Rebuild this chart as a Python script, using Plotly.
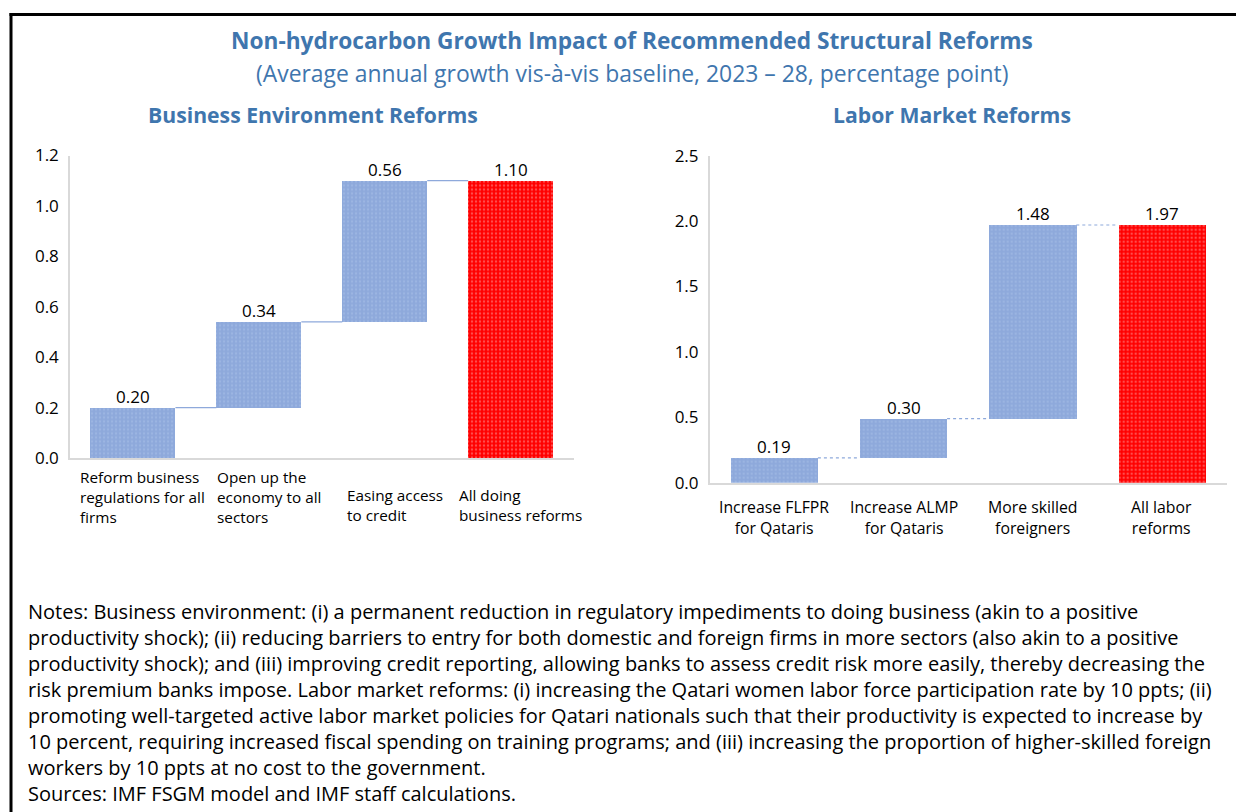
import plotly.graph_objects as go

# ---------------- data ----------------
be_categories = ["Reform business<br>regulations for all<br>firms",
                 "Open up the<br>economy to all<br>sectors",
                 "Easing access<br>to credit",
                 "All doing<br>business reforms"]
be_values = [0.20, 0.34, 0.56, 1.10]
be_measure = ["relative", "relative", "relative", "total"]
be_ticks = [0.0, 0.2, 0.4, 0.6, 0.8, 1.0, 1.2]

lm_categories = ["Increase FLFPR<br>for Qataris",
                 "Increase ALMP<br>for Qataris",
                 "More skilled<br>foreigners",
                 "All labor<br>reforms"]
lm_values = [0.19, 0.30, 1.48, 1.97]
lm_measure = ["relative", "relative", "relative", "total"]
lm_ticks = [0.0, 0.5, 1.0, 1.5, 2.0, 2.5]

title_text = "<b>Non-hydrocarbon Growth Impact of Recommended Structural Reforms</b>"
subtitle_text = "(Average annual growth vis-à-vis baseline, 2023 – 28, percentage point)"
left_title = "<b>Business Environment Reforms</b>"
right_title = "<b>Labor Market Reforms</b>"
notes_lines = [
    "Notes: Business environment: (i) a permanent reduction in regulatory impediments to doing business (akin to a positive",
    "productivity shock); (ii) reducing barriers to entry for both domestic and foreign firms in more sectors (also akin to a positive",
    "productivity shock); and (iii) improving credit reporting, allowing banks to assess credit risk more easily, thereby decreasing the",
    "risk premium banks impose. Labor market reforms: (i) increasing the Qatari women labor force participation rate by 10 ppts; (ii)",
    "promoting well-targeted active labor market policies for Qatari nationals such that their productivity is expected to increase by",
    "10 percent, requiring increased fiscal spending on training programs; and (iii) increasing the proportion of higher-skilled foreign",
    "workers by 10 ppts at no cost to the government.",
    "Sources: IMF FSGM model and IMF staff calculations.",
]

# ---------------- style ----------------
FONT = "Open Sans"
TITLE_BLUE = "#3F76AE"
BAR_BLUE = "#8EA9DB"
DOT_BLUE = "#A9C1E8"
BAR_RED = "#FF0000"
DOT_RED = "#FF9A9A"
AXIS_GRAY = "#D9D9D9"
BAR_W = 0.675
OX, OY = 8, 8  # page body margin in the browser
W, H = 1244 - OX, 812 - OY  # figure reaches the window's right and bottom edges


def px(x):
    return (x - OX) / W


def py(y):
    return 1 - (y - OY) / H


fig = go.Figure()


def waterfall(values, measures):
    bases, tops, run = [], [], 0.0
    for v, m in zip(values, measures):
        if m == "total":
            bases.append(0.0)
            tops.append(v)
            run = v
        else:
            bases.append(run)
            run += v
            tops.append(run)
    return bases, tops


def add_panel(values, measures, xa, ya, dash):
    bases, tops = waterfall(values, measures)
    n = len(values)
    inc_x = [i for i in range(n) if measures[i] != "total"]
    tot_x = [i for i in range(n) if measures[i] == "total"]
    fig.add_trace(go.Bar(
        x=inc_x, y=[values[i] for i in inc_x], base=[bases[i] for i in inc_x],
        width=BAR_W, xaxis=xa, yaxis=ya, hoverinfo="skip", showlegend=False,
        marker=dict(color=BAR_BLUE, line=dict(width=0),
                    pattern=dict(shape=".", bgcolor=BAR_BLUE, fgcolor=DOT_BLUE,
                                 size=4, solidity=0.25)),
    ))
    fig.add_trace(go.Bar(
        x=tot_x, y=[values[i] for i in tot_x], base=[bases[i] for i in tot_x],
        width=BAR_W, xaxis=xa, yaxis=ya, hoverinfo="skip", showlegend=False,
        marker=dict(color=BAR_RED, line=dict(width=0),
                    pattern=dict(shape=".", bgcolor=BAR_RED, fgcolor=DOT_RED,
                                 size=4, solidity=0.3)),
    ))
    for i in range(n - 1):
        level = tops[i]
        fig.add_trace(go.Scatter(
            x=[i + BAR_W / 2, i + 1 - BAR_W / 2], y=[level, level],
            mode="lines", xaxis=xa, yaxis=ya, hoverinfo="skip", showlegend=False,
            line=dict(color=BAR_BLUE, width=1.2, dash=dash),
        ))
    for i in range(n):
        fig.add_annotation(
            x=i, y=tops[i], xref=xa, yref=ya.replace("axis", ""),
            text=f"{values[i]:.2f}", showarrow=False, xanchor="center",
            yanchor="bottom", yshift=-2,
            font=dict(family=FONT, size=17, color="#000000"),
        )


add_panel(be_values, be_measure, "x", "y", "solid")
add_panel(lm_values, lm_measure, "x2", "y2", "dot")

axis_common = dict(showgrid=False, zeroline=False, showline=True,
                   linecolor=AXIS_GRAY, linewidth=1.5, fixedrange=True,
                   automargin=False)

fig.update_layout(
    width=W, height=H,
    margin=dict(l=0, r=0, t=0, b=0, pad=0, autoexpand=False),
    paper_bgcolor="white", plot_bgcolor="white",
    bargap=0, showlegend=False,
    font=dict(family=FONT, size=17, color="#000000"),
    xaxis=dict(domain=[px(70), px(573.6)], range=[-0.5, 3.5],
               showticklabels=False, ticks="", anchor="y", **axis_common),
    yaxis=dict(domain=[py(458), py(155.5)], range=[0, 1.2],
               tickvals=be_ticks, tickformat=".1f", ticks="",
               ticklabelstandoff=6, anchor="x",
               tickfont=dict(family=FONT, size=17, color="#000000"), **axis_common),
    xaxis2=dict(domain=[px(709.7), px(1226.5)], range=[-0.5, 3.5],
                showticklabels=False, ticks="", anchor="y2", **axis_common),
    yaxis2=dict(domain=[py(482.7), py(155.7)], range=[0, 2.5],
                tickvals=lm_ticks, tickformat=".1f", ticks="",
                ticklabelstandoff=6, anchor="x2",
                tickfont=dict(family=FONT, size=17, color="#000000"), **axis_common),
)

for i, lab in enumerate(be_categories):
    nlines = lab.count("<br>") + 1
    fig.add_annotation(
        x=i, xref="x", y=py(465 + (3 - nlines) * 18), yref="paper",
        text=lab, showarrow=False, xanchor="center", yanchor="top",
        align="left", xshift=10,
        font=dict(family=FONT, size=15.3, color="#000000"),
    )
for i, lab in enumerate(lm_categories):
    fig.add_annotation(
        x=i, xref="x2", y=py(494), yref="paper",
        text=lab, showarrow=False, xanchor="center", yanchor="top",
        align="center",
        font=dict(family=FONT, size=15.8, color="#000000"),
    )

fig.add_annotation(x=px(632), y=py(40), xref="paper", yref="paper",
                   text=title_text, showarrow=False, xanchor="center", yanchor="middle",
                   font=dict(family=FONT, size=22.7, color=TITLE_BLUE))
fig.add_annotation(x=px(632), y=py(73), xref="paper", yref="paper",
                   text=subtitle_text, showarrow=False, xanchor="center", yanchor="middle",
                   font=dict(family=FONT, size=22.9, color=TITLE_BLUE))
fig.add_annotation(x=px(312.5), y=py(114), xref="paper", yref="paper",
                   text=left_title, showarrow=False, xanchor="center", yanchor="middle",
                   font=dict(family=FONT, size=21.2, color=TITLE_BLUE))
fig.add_annotation(x=px(951.5), y=py(114), xref="paper", yref="paper",
                   text=right_title, showarrow=False, xanchor="center", yanchor="middle",
                   font=dict(family=FONT, size=21.2, color=TITLE_BLUE))

fig.add_annotation(x=px(26), y=py(596), xref="paper", yref="paper",
                   text="<br>".join(notes_lines), showarrow=False,
                   xanchor="left", yanchor="top", align="left",
                   font=dict(family=FONT, size=20, color="#000000"))

# outer frame: only top and left edges are visible in the reference
fig.add_shape(type="line", xref="paper", yref="paper",
              x0=px(9.5), x1=1, y0=py(14.5), y1=py(14.5),
              line=dict(color="#000000", width=3), layer="above")
fig.add_shape(type="line", xref="paper", yref="paper",
              x0=px(11), x1=px(11), y0=0, y1=py(13),
              line=dict(color="#000000", width=3), layer="above")

fig.write_html("out.html")
